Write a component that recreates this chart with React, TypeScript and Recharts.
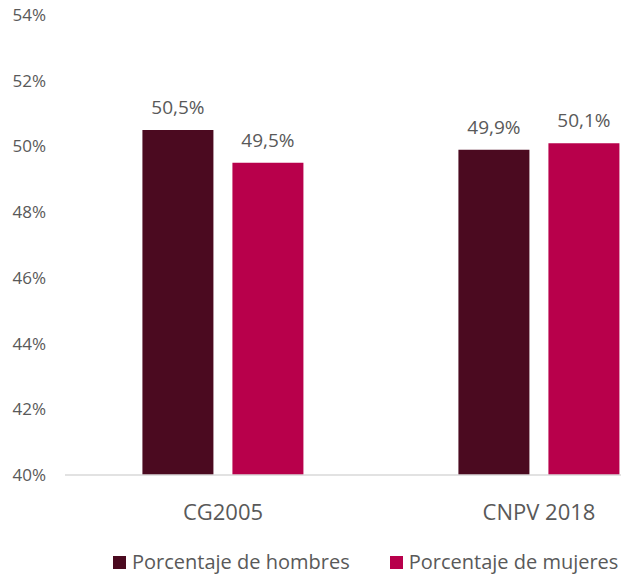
import React from 'react';
import { BarChart, Bar, XAxis, YAxis, Legend, LabelList } from 'recharts';

const categories = ['CG2005', 'CNPV 2018'];
const hombres = [50.5, 49.9];
const mujeres = [49.5, 50.1];
const yTicks = [40, 42, 44, 46, 48, 50, 52, 54];

const data = categories.map((name, i) => ({ name, hombres: hombres[i], mujeres: mujeres[i] }));

const COLOR_H = '#4b0a20';
const COLOR_M = '#b8004b';
const TEXT = '#595959';
const FONT = '"Open Sans", sans-serif';

const fmt = (v: any) => `${Number(v).toFixed(1).replace('.', ',')}%`;

const LegendContent = () => (
  <div
    style={{
      display: 'flex',
      alignItems: 'center',
      boxSizing: 'border-box',
      paddingLeft: 113,
      paddingTop: 20,
      height: 44,
      lineHeight: '24px',
      fontFamily: FONT,
      fontSize: 20,
      color: TEXT,
    }}
  >
    <span style={{ width: 13, height: 13, background: COLOR_H, display: 'inline-block', marginRight: 6 }} />
    <span style={{ marginRight: 40 }}>Porcentaje de hombres</span>
    <span style={{ width: 13, height: 13, background: COLOR_M, display: 'inline-block', marginRight: 6 }} />
    <span>Porcentaje de mujeres</span>
  </div>
);

export default function App() {
  return (
    <div style={{ position: 'absolute', left: 0, top: 0, width: 621, height: 574, overflow: 'hidden', background: '#fff' }}>
      <BarChart
        width={700}
        height={574}
        data={data}
        margin={{ top: 15, right: 3, left: 0, bottom: 0 }}
        barGap={19}
        barCategoryGap="24.5%"
      >
        <XAxis
          dataKey="name"
          height={55}
          tickLine={false}
          axisLine={{ stroke: '#d9d9d9', strokeWidth: 1.5 }}
          tickMargin={23}
          tick={{ fill: TEXT, fontSize: 22, fontFamily: FONT }}
        />
        <YAxis
          width={65}
          domain={[40, 54]}
          ticks={yTicks}
          allowDataOverflow
          axisLine={false}
          tickLine={false}
          tickMargin={13}
          tickFormatter={(v) => `${v}%`}
          tick={{ fill: TEXT, fontSize: 17, fontFamily: FONT }}
        />
        <Legend
          verticalAlign="bottom"
          height={44}
          content={LegendContent}
          wrapperStyle={{ left: 0, width: 700, bottom: 0, height: 44 }}
        />
        <Bar dataKey="hombres" fill={COLOR_H} isAnimationActive={false}>
          <LabelList dataKey="hombres" position="top" offset={16} formatter={fmt} fill={TEXT} fontSize={19} fontFamily={FONT} />
        </Bar>
        <Bar dataKey="mujeres" fill={COLOR_M} isAnimationActive={false}>
          <LabelList dataKey="mujeres" position="top" offset={16} formatter={fmt} fill={TEXT} fontSize={19} fontFamily={FONT} />
        </Bar>
      </BarChart>
    </div>
  );
}
